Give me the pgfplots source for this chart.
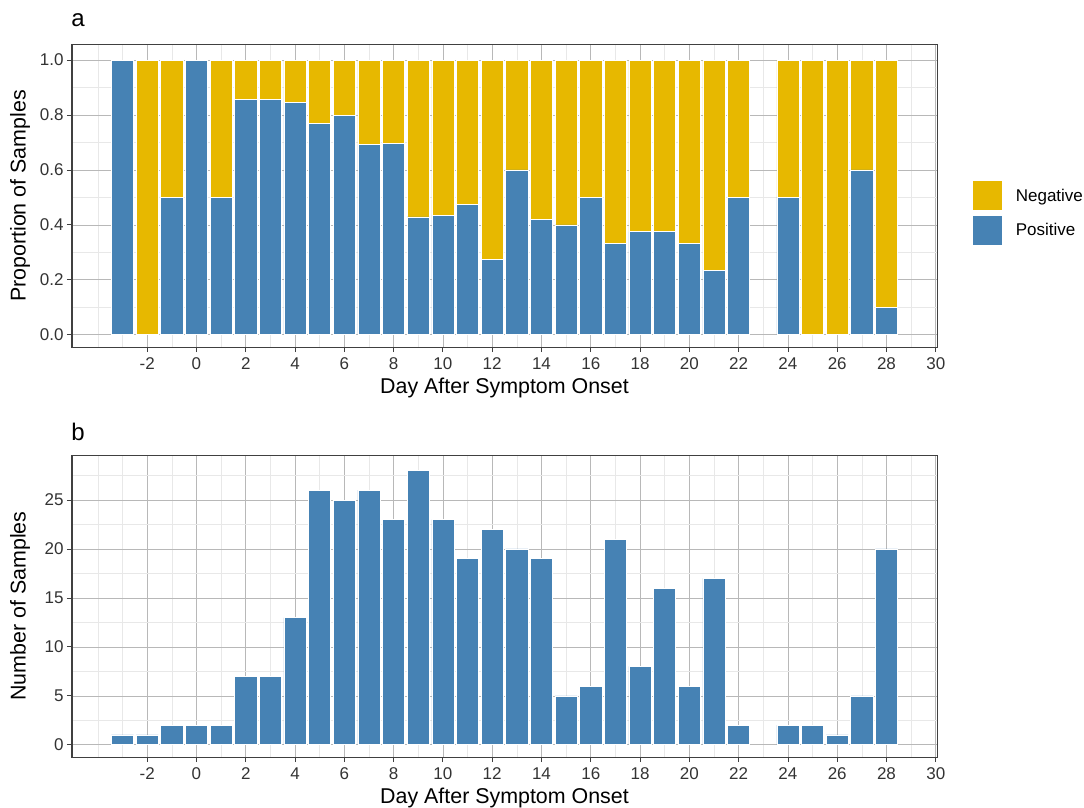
\documentclass[border=0pt]{standalone}
\usepackage{fontspec}
\setmainfont{Liberation Sans}
\usepackage{pgfplots}
\pgfplotsset{compat=1.18}
\usepackage{pgfplotstable}

\definecolor{posc}{HTML}{4682B4}
\definecolor{negc}{HTML}{E7B800}

\pgfplotstableread{
day pos neg n
-3 1.000 0.000 1
-2 0.000 1.000 1
-1 0.500 0.500 2
0 1.000 0.000 2
1 0.500 0.500 2
2 0.857 0.143 7
3 0.857 0.143 7
4 0.846 0.154 13
5 0.769 0.231 26
6 0.800 0.200 25
7 0.692 0.308 26
8 0.696 0.304 23
9 0.429 0.571 28
10 0.435 0.565 23
11 0.474 0.526 19
12 0.273 0.727 22
13 0.600 0.400 20
14 0.421 0.579 19
15 0.400 0.600 5
16 0.500 0.500 6
17 0.333 0.667 21
18 0.375 0.625 8
19 0.375 0.625 16
20 0.333 0.667 6
21 0.235 0.765 17
22 0.500 0.500 2
24 0.500 0.500 2
25 0.000 1.000 2
26 0.000 1.000 1
27 0.600 0.400 5
28 0.100 0.900 20
}\data

\pgfplotsset{mystyle/.style={
  width=865pt, height=302pt, scale only axis,
  xmin=-5.05, xmax=30.05,
  xtick={-2,0,...,30},
  minor xtick={-4,-3,-1,1,...,29},
  grid=both,
  major grid style={draw=black!28, line width=0.6pt},
  minor grid style={draw=black!9, line width=0.6pt},
  axis line style={draw=black!75, line width=1pt},
  tick style={draw=black!75, line width=0.8pt},
  major tick length=5pt, minor tick length=0pt,
  tick align=outside, tick pos=left,
  ticklabel style={font=\fontsize{17}{20}\selectfont, text=black!80},
  xticklabel style={text height=12pt, text depth=0pt, yshift=-2pt},
  /pgf/number format/assume math mode=true,
  every axis y label/.style={at={(axis description cs:-0.0601,0.5)}, rotate=90, anchor=center, font=\fontsize{21.4}{24}\selectfont},
  every axis x label/.style={at={(axis description cs:0.5,-0.136)}, anchor=center, font=\fontsize{21.4}{24}\selectfont},
}}

\begin{document}
\begin{tikzpicture}
\useasboundingbox (0pt,0pt) rectangle (1084pt,-808pt);
\node[font=\fontsize{24}{28}\selectfont] at (78pt,-20pt) {a};
\node[font=\fontsize{24}{28}\selectfont] at (78pt,-432pt) {b};

\begin{axis}[mystyle,
  at={(72pt,-45pt)}, anchor=north west,
  ybar stacked, bar width=0.9,
  ymin=-0.045, ymax=1.055,
  ytick={0,0.2,...,1.0},
  minor ytick={0.1,0.3,...,0.9},
  yticklabel style={/pgf/number format/.cd, fixed, fixed zerofill, precision=1},
  xlabel={Day After Symptom Onset},
  ylabel={Proportion of Samples},
  reverse legend,
  legend cell align=left,
  legend image code/.code={\fill[#1] (0pt,-15pt) rectangle (30pt,15pt); \path (43pt,0pt);},
  legend style={at={(1.0405,0.444)}, anchor=west, draw=none, fill=none,
    font=\fontsize{17}{20}\selectfont, inner sep=0pt, row sep=4pt,
    nodes={inner sep=0pt}},
]
\addplot[fill=posc, draw=white, line width=0.6pt] table[x=day,y=pos]{\data};
\addlegendentry{Positive}
\addplot[fill=negc, draw=white, line width=0.6pt] table[x=day,y=neg]{\data};
\addlegendentry{Negative}
\end{axis}

\begin{axis}[mystyle,
  at={(72pt,-455pt)}, anchor=north west,
  ybar, bar width=0.9,
  ymin=-1.25, ymax=29.6,
  ytick={0,5,...,25},
  minor ytick={2.5,7.5,...,27.5},
  xlabel={Day After Symptom Onset},
  ylabel={Number of Samples},
]
\addplot[fill=posc, draw=white, line width=0.6pt] table[x=day,y=n]{\data};
\end{axis}
\end{tikzpicture}
\end{document}
